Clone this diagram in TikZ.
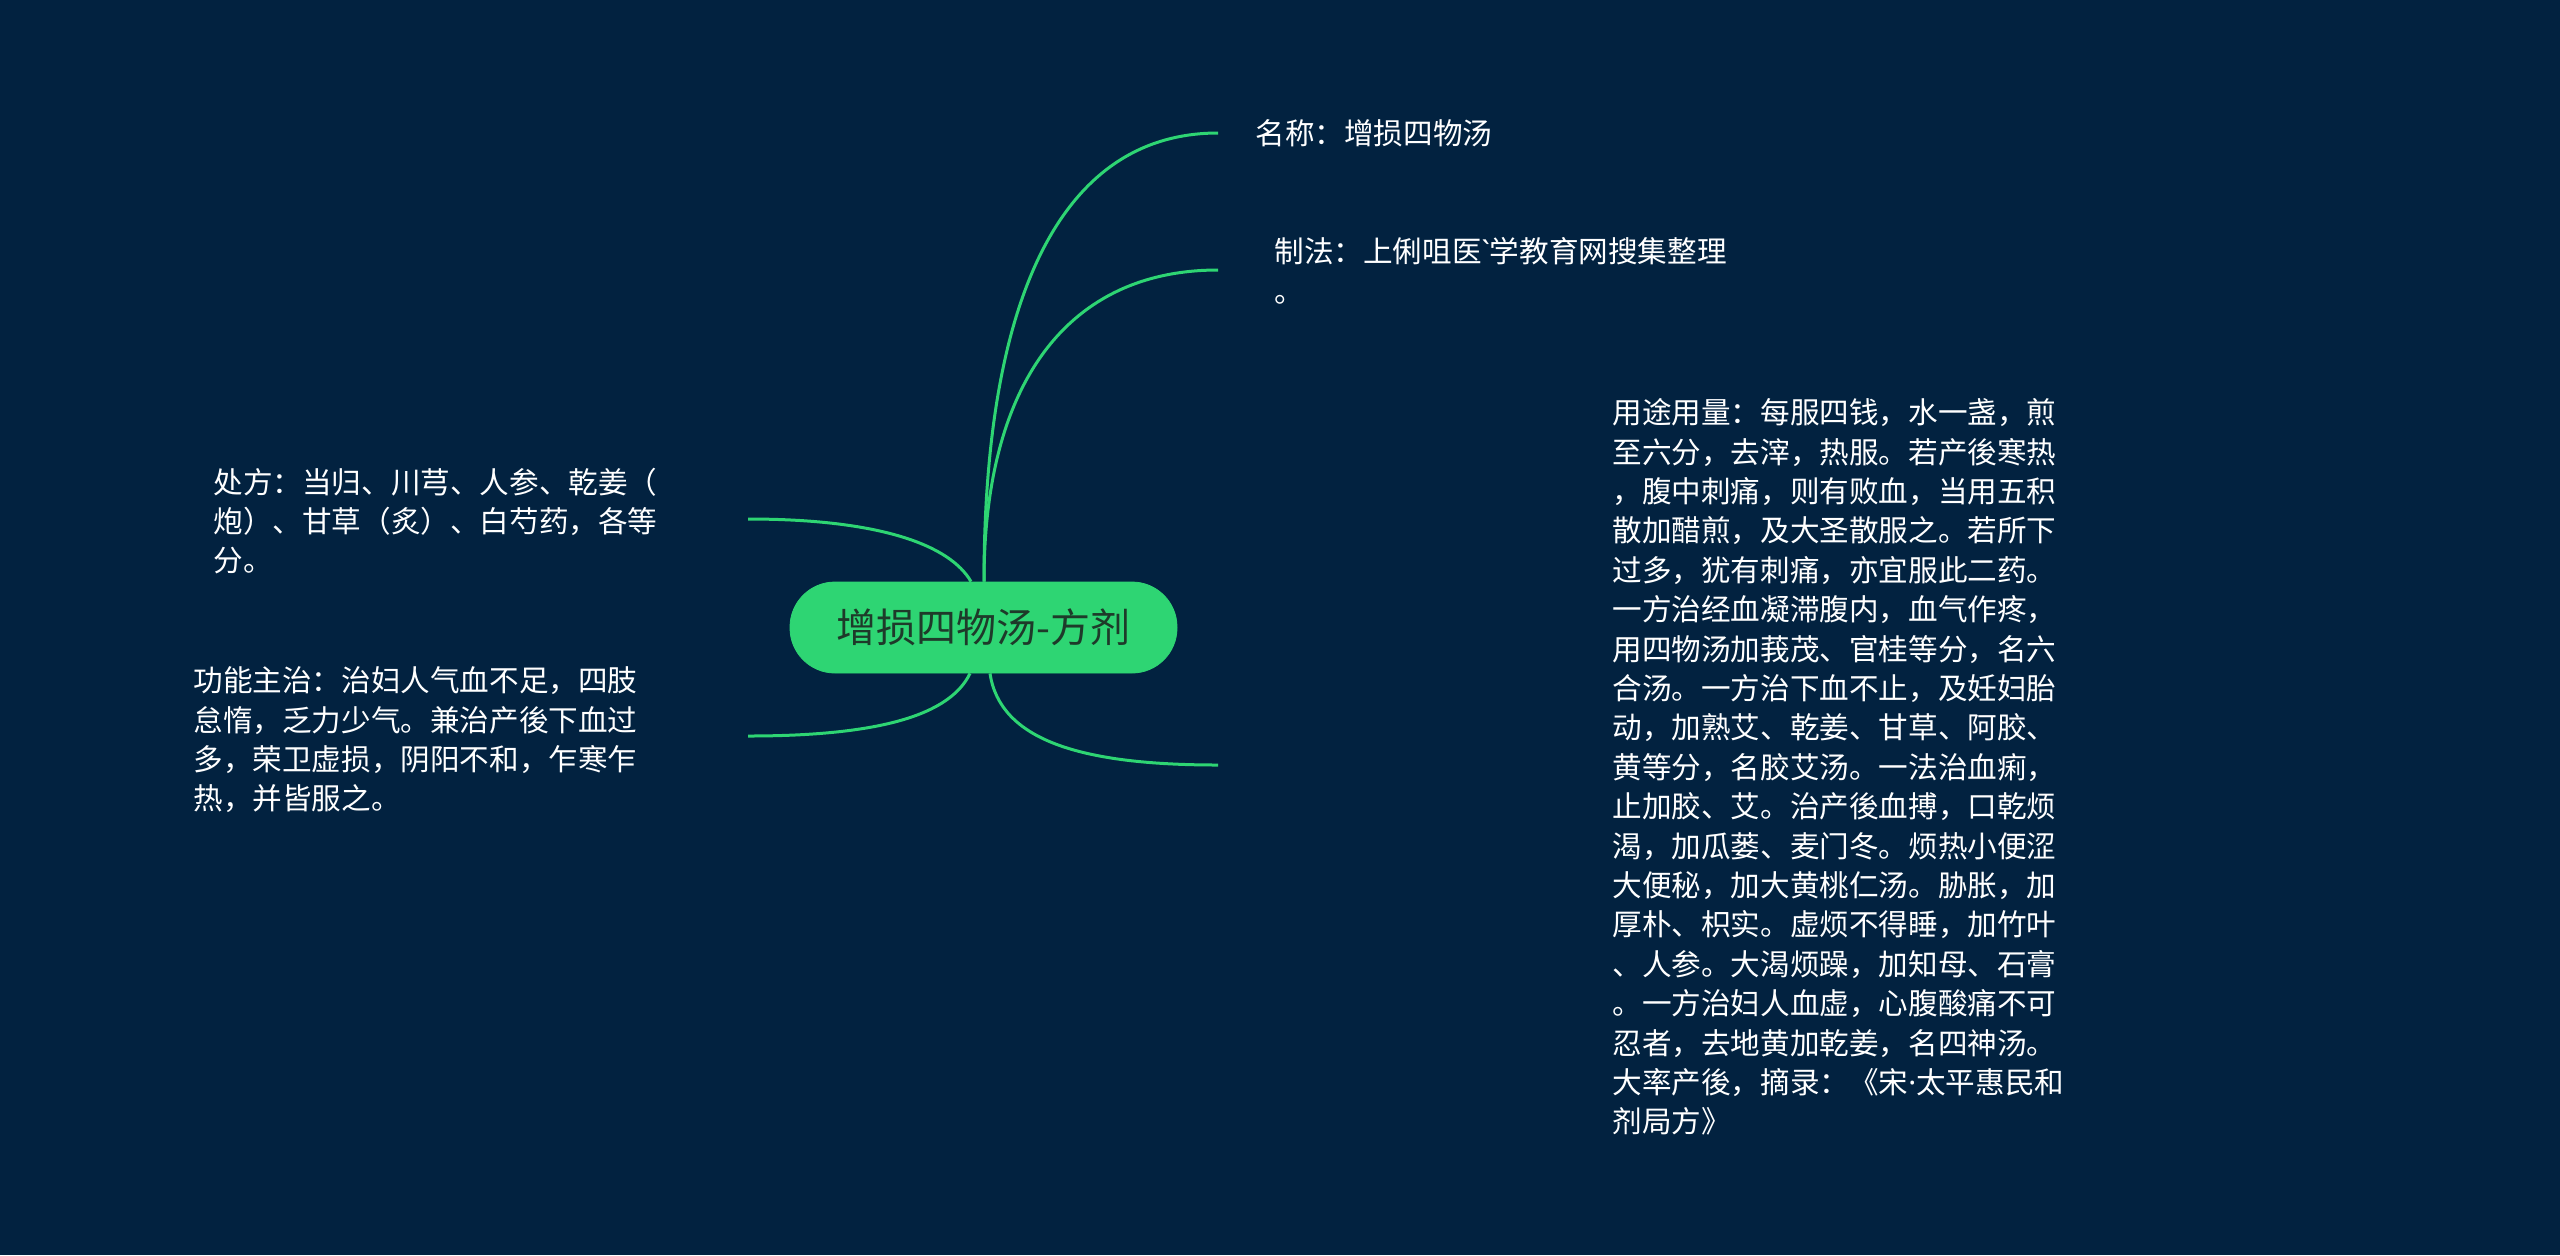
\documentclass[tikz,border=0pt]{standalone}
\usepackage{fontspec}
\newfontfamily\cjk{Noto Sans CJK SC}[Ligatures=TeXOff]
\newfontfamily\latinf{Noto Sans}[Ligatures=TeXOff]
\definecolor{bg}{HTML}{022240}
\definecolor{grn}{HTML}{2ED573}
\definecolor{darktxt}{HTML}{1E3A2A}
\begin{document}
\begin{tikzpicture}[x=0.5pt,y=-0.5pt,
  branch/.style={draw=grn, line width=1.5pt},
  leaf/.style={text=white, font=\cjk\fontsize{14.8}{19.7}\selectfont, align=left, inner sep=0pt, anchor=west},
  root/.style={fill=grn, draw=grn, rounded corners=22.5pt, minimum width=193.5pt, minimum height=45.5pt, inner sep=0pt, text=darktxt, font=\cjk\fontsize{20}{24}\selectfont}]
\fill[bg] (0,0) rectangle (2560,1255);
\useasboundingbox (0,0) rectangle (2560,1255);

\node[root] (c) at (983.5,627.5) {增损四物汤-方剂};

\coordinate (e1) at (1218,133);
\coordinate (e2) at (1218,270);
\coordinate (e3) at (1218,765);
\coordinate (e4) at (748,519);
\coordinate (e5) at (748,736);

\draw[branch] ([xshift=0.25pt]c.north) .. controls (984,300) and (1060,133) .. (e1);
\draw[branch] ([xshift=0.25pt]c.north) .. controls (984,380) and (1070,270) .. (e2);
\draw[branch] ([xshift=3.25pt]c.south) .. controls (1000,740) and (1080,765) .. (e3);
\draw[branch] ([xshift=-6.25pt]c.north) .. controls (950,545) and (880,519) .. (e4);
\draw[branch] ([xshift=-6.75pt]c.south) .. controls (950,715) and (880,736) .. (e5);

\node[leaf] (n1) at (1255,133) {名称：增损四物汤};
\node[leaf] (n2) at (1274,271) {制法：上俐咀医{\latinf\char96}学教育网搜集整理\\。};
\node[leaf] (n3) at (1612,767) {用途用量：每服四钱，水一盏，煎\\
至六分，去滓，热服。若产後寒热\\
，腹中刺痛，则有败血，当用五积\\
散加醋煎，及大圣散服之。若所下\\
过多，犹有刺痛，亦宜服此二药。\\
一方治经血凝滞腹内，血气作疼，\\
用四物汤加莪茂、官桂等分，名六\\
合汤。一方治下血不止，及妊妇胎\\
动，加熟艾、乾姜、甘草、阿胶、\\
黄等分，名胶艾汤。一法治血痢，\\
止加胶、艾。治产後血搏，口乾烦\\
渴，加瓜蒌、麦门冬。烦热小便涩\\
大便秘，加大黄桃仁汤。胁胀，加\\
厚朴、枳实。虚烦不得睡，加竹叶\\
、人参。大渴烦躁，加知母、石膏\\
。一方治妇人血虚，心腹酸痛不可\\
忍者，去地黄加乾姜，名四神汤。\\
大率产後，摘录：《宋{\latinf ·}太平惠民和\\
剂局方》};
\node[leaf] (n4) at (213,521) {处方：当归、川芎、人参、乾姜（\\
炮）、甘草（炙）、白芍药，各等\\
分。};
\node[leaf] (n5) at (193,740) {功能主治：治妇人气血不足，四肢\\
怠惰，乏力少气。兼治产後下血过\\
多，荣卫虚损，阴阳不和，乍寒乍\\
热，并皆服之。};
\end{tikzpicture}
\end{document}
